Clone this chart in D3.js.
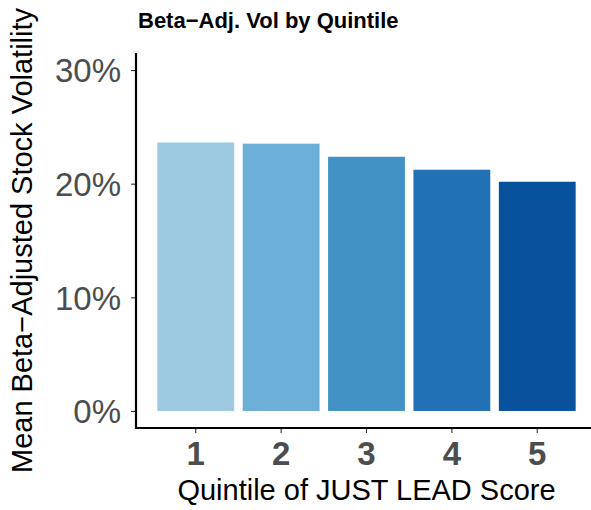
<!DOCTYPE html>
<html>
<head>
<meta charset="utf-8">
<script src="https://cdn.jsdelivr.net/npm/d3@7"></script>
<style>
  body { margin: 0; background: #fff; }
  svg { display: block; font-family: "Liberation Sans", Arial, Helvetica, sans-serif; }
</style>
</head>
<body>
<svg id="chart" width="591" height="510"></svg>
<script>
const quintiles = ["1", "2", "3", "4", "5"];
const meanVol = [0.2363, 0.2352, 0.2237, 0.2123, 0.2017];
const barColors = ["#9ecae1", "#6baed6", "#4292c6", "#2171b5", "#08519c"];
const yTicks = [0, 0.1, 0.2, 0.3];

const svg = d3.select("#chart");

const panel = { left: 136, right: 597, top: 53, bottom: 428 };

const x = d3.scaleBand()
  .domain(quintiles)
  .range([panel.left, panel.right])
  .paddingInner(0.1)
  .paddingOuter(0.25);

const y = d3.scaleLinear()
  .domain([-0.015, 0.315])
  .range([panel.bottom, panel.top]);

// bars
svg.append("g")
  .selectAll("rect")
  .data(quintiles)
  .join("rect")
  .attr("x", d => x(d))
  .attr("width", x.bandwidth())
  .attr("y", (d, i) => y(meanVol[i]))
  .attr("height", (d, i) => y(0) - y(meanVol[i]))
  .attr("fill", (d, i) => barColors[i]);

// y axis
const yAxis = svg.append("g")
  .attr("transform", "translate(" + panel.left + ",0)")
  .call(d3.axisLeft(y)
    .tickValues(yTicks)
    .tickFormat(d3.format(".0%"))
    .tickSize(5)
    .tickPadding(10));

yAxis.select(".domain").remove();
yAxis.selectAll(".tick line").attr("stroke", "#333").attr("stroke-width", 1.1);
yAxis.selectAll(".tick text")
  .attr("fill", "#4d4d4d")
  .attr("font-size", 33)
  .attr("dy", "0.36em");

// x axis
const xAxis = svg.append("g")
  .attr("transform", "translate(0," + panel.bottom + ")")
  .call(d3.axisBottom(x).tickSize(5).tickPadding(9));

xAxis.select(".domain").remove();
xAxis.selectAll(".tick line").attr("stroke", "#333").attr("stroke-width", 1.1);
xAxis.selectAll(".tick text")
  .attr("fill", "#4d4d4d")
  .attr("font-size", 33)
  .attr("font-weight", "bold")
  .attr("dy", "0.71em");

// axis lines
svg.append("path")
  .attr("d", d3.line()([[panel.left, panel.top], [panel.left, panel.bottom], [591, panel.bottom]]))
  .attr("fill", "none")
  .attr("stroke", "#000")
  .attr("stroke-width", 2.2);

// titles
svg.append("text")
  .attr("x", 138)
  .attr("y", 28)
  .attr("font-size", 22)
  .attr("font-weight", "bold")
  .attr("fill", "#000")
  .text("Beta−Adj. Vol by Quintile");

svg.append("text")
  .attr("x", (panel.left + panel.right) / 2)
  .attr("y", 500)
  .attr("text-anchor", "middle")
  .attr("font-size", 29)
  .attr("fill", "#000")
  .text("Quintile of JUST LEAD Score");

svg.append("text")
  .attr("transform", "translate(32," + (panel.top + panel.bottom) / 2 + ") rotate(-90)")
  .attr("text-anchor", "middle")
  .attr("font-size", 29)
  .attr("fill", "#000")
  .text("Mean Beta−Adjusted Stock Volatility");
</script>
</body>
</html>
